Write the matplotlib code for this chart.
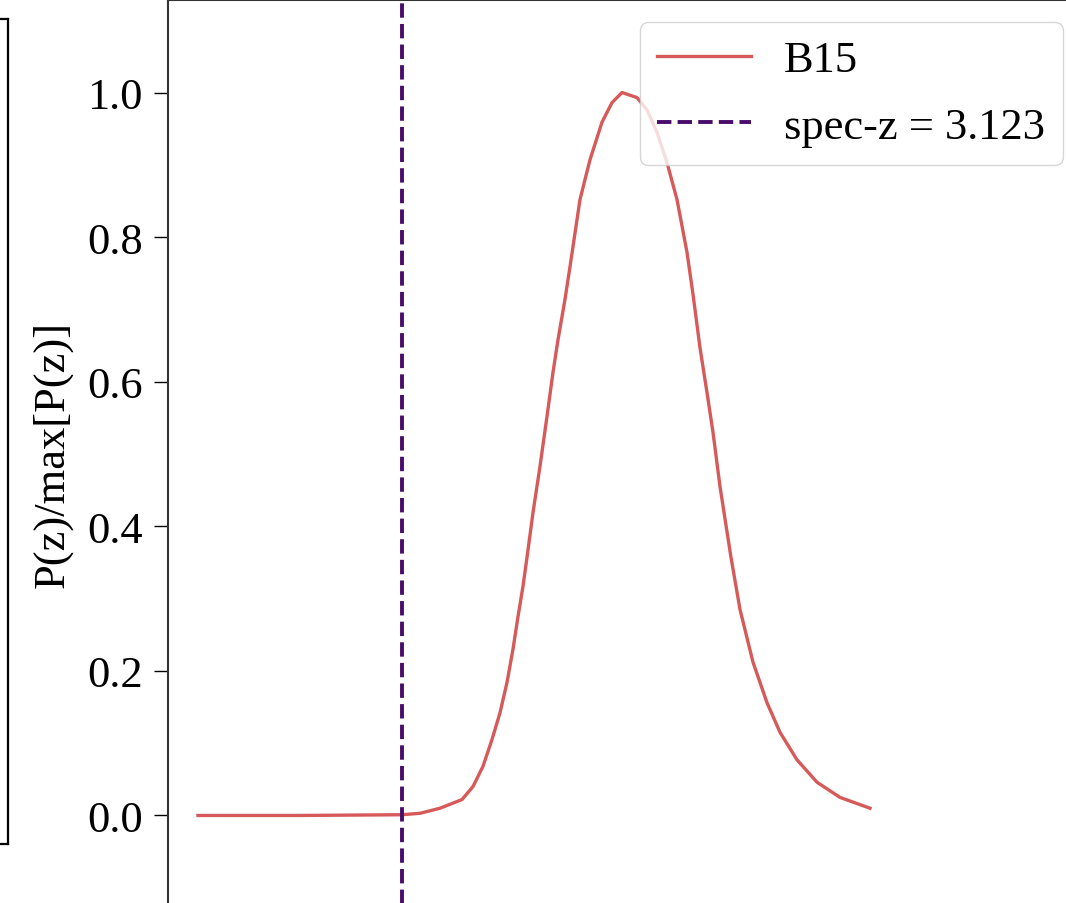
import numpy as np
import matplotlib.pyplot as plt

plt.rcParams['font.family'] = ['Liberation Serif', 'DejaVu Serif']

# B15 photo-z probability curve, normalised to its peak
z_grid = [2.103, 2.613, 3.123, 3.213, 3.313, 3.423, 3.478, 3.528, 3.573, 3.613,
          3.648, 3.678, 3.703, 3.728, 3.748, 3.778, 3.813, 3.848, 3.878, 3.903,
          3.938, 3.963, 4.013, 4.063, 4.123, 4.173, 4.223, 4.298, 4.348, 4.398,
          4.448, 4.498, 4.548, 4.578, 4.613, 4.648, 4.678, 4.713, 4.768, 4.813,
          4.878, 4.948, 5.013, 5.098, 5.198, 5.313, 5.463]
pz_b15 = [0.000, 0.000, 0.001, 0.003, 0.010, 0.022, 0.040, 0.068, 0.105, 0.142,
          0.184, 0.230, 0.275, 0.317, 0.357, 0.419, 0.483, 0.552, 0.613, 0.658,
          0.714, 0.759, 0.852, 0.907, 0.959, 0.986, 1.000, 0.993, 0.976, 0.945,
          0.903, 0.852, 0.779, 0.721, 0.647, 0.585, 0.530, 0.455, 0.357, 0.285,
          0.212, 0.156, 0.115, 0.077, 0.046, 0.025, 0.010]
spec_z = 3.123
yticks = [0.0, 0.2, 0.4, 0.6, 0.8, 1.0]

W, H = 1066, 904
fig = plt.figure(figsize=(W / 100, H / 100), dpi=100)

# edge of the neighbouring panel, cut off at the left
ax0 = fig.add_axes([-0.1, (H - 845) / H, 0.1 + 8 / W, (845 - 20) / H])
ax0.set_xticks([])
ax0.set_yticks([])
for sp in ax0.spines.values():
    sp.set_linewidth(1.6)

# main panel (right and bottom edges fall outside the crop)
left, right, top, bottom = 168, 1085, 1, 909
ax = fig.add_axes([left / W, (H - bottom) / H, (right - left) / W, (bottom - top) / H])

ax.plot(z_grid, pz_b15, color='#d65a5a', lw=2.4, label='B15')
ax.axvline(spec_z, color='#4a0c6b', ls='--', lw=2.8, label='spec-z = %.3f' % spec_z)

ax.set_xlim(spec_z - (402 - left) / 200, spec_z + (right - 402) / 200)
ax.set_ylim(-0.128, 1.128)
ax.set_yticks(yticks)
ax.set_yticklabels(['%.1f' % t for t in yticks])
ax.tick_params(axis='y', labelsize=32, length=10, width=1, pad=8)
ax.tick_params(axis='x', bottom=False, labelbottom=False)
ax.set_ylabel('P(z)/max[P(z)]', fontsize=32)
ax.yaxis.set_label_coords(-0.104, 0.5)

for sp in ax.spines.values():
    sp.set_linewidth(1.5)
    sp.set_color('#333333')

ax.legend(loc='upper right', fontsize=32, handlelength=2.1, borderpad=0.4,
          labelspacing=0.6, handletextpad=0.75, borderaxespad=0.5)

plt.savefig('out.png', dpi=100)
